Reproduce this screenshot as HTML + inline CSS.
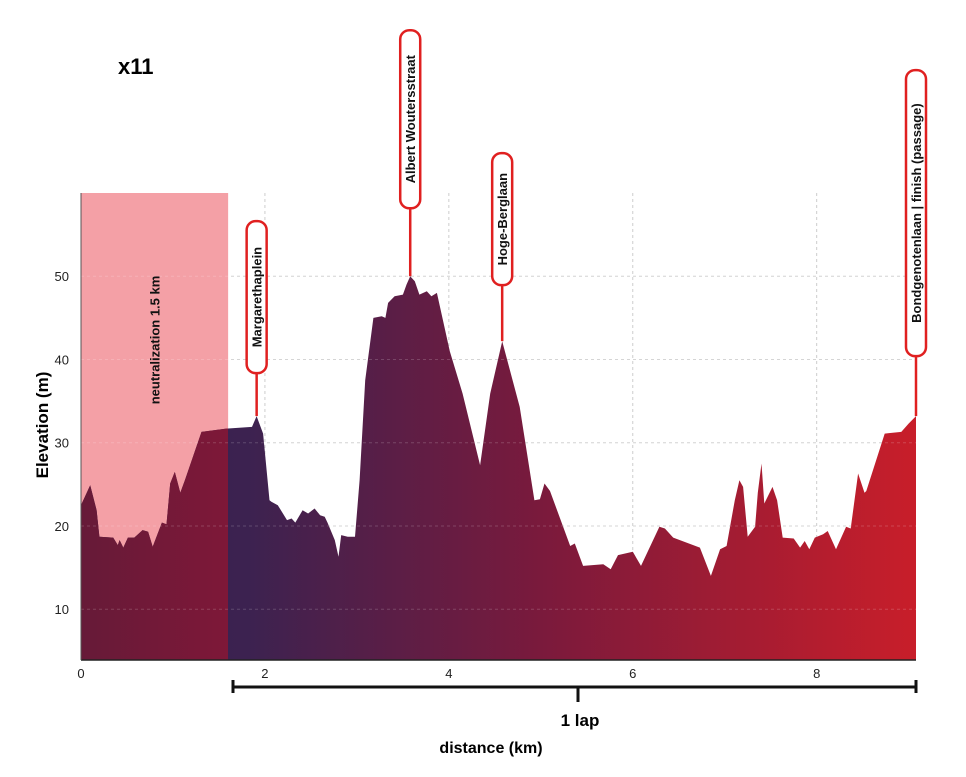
<!DOCTYPE html>
<html><head><meta charset="utf-8"><style>
body{margin:0;background:#fff;width:966px;height:772px;overflow:hidden;font-family:"Liberation Sans",sans-serif}
svg text{font-family:"Liberation Sans",sans-serif}
</style></head><body>
<svg id="chart" width="966" height="772" viewBox="0 0 966 772" xmlns="http://www.w3.org/2000/svg">
<defs>
<linearGradient id="grad" x1="81" x2="916" y1="0" y2="0" gradientUnits="userSpaceOnUse">
<stop offset="0" stop-color="#35234f"/><stop offset="0.2" stop-color="#3c2250"/><stop offset="0.55" stop-color="#7a1a3c"/><stop offset="1" stop-color="#c81e2a"/></linearGradient>
<linearGradient id="gradN" x1="81" x2="228" y1="0" y2="0" gradientUnits="userSpaceOnUse">
<stop offset="0" stop-color="#661a38"/><stop offset="1" stop-color="#7e1838"/></linearGradient>
<clipPath id="clipN"><rect x="81" y="193" width="147" height="467"/></clipPath>
</defs>
<text x="118" y="74" font-size="22" font-weight="bold">x11</text>
<g id="grid"></g>
<g id="plot"></g>
<g id="axes"></g>
<g id="markers"></g>
<text transform="translate(48,425) rotate(-90)" text-anchor="middle" font-size="17" font-weight="bold">Elevation (m)</text>
<g stroke="#111" stroke-width="3" fill="none">
<path d="M233,680 V693 M233,687 H916 M916,680 V693 M578,687 V702"/>
</g>
<text x="580" y="726" text-anchor="middle" font-size="17" font-weight="bold">1 lap</text>
<text x="491" y="753" text-anchor="middle" font-size="16" font-weight="bold">distance (km)</text>
</svg>
<script>
const km=[0,0.1,0.17,0.2,0.35,0.4,0.42,0.46,0.51,0.58,0.67,0.73,0.78,0.88,0.93,0.97,1.02,1.08,1.13,1.31,1.58,1.86,1.91,1.98,2.05,2.07,2.14,2.24,2.29,2.33,2.41,2.47,2.54,2.6,2.65,2.68,2.76,2.8,2.83,2.9,2.98,3.03,3.09,3.18,3.27,3.31,3.34,3.41,3.5,3.54,3.58,3.63,3.68,3.76,3.81,3.87,4.01,4.15,4.34,4.45,4.58,4.77,4.93,4.99,5.04,5.1,5.32,5.37,5.46,5.68,5.76,5.84,6.0,6.09,6.29,6.35,6.44,6.73,6.85,6.95,7.02,7.11,7.16,7.2,7.25,7.33,7.36,7.4,7.43,7.52,7.57,7.63,7.75,7.82,7.87,7.92,7.98,8.07,8.12,8.21,8.32,8.37,8.45,8.52,8.54,8.74,8.92,9.0,9.08];
const elev=[22.5,24.9,21.9,18.7,18.6,17.7,18.3,17.4,18.6,18.6,19.5,19.3,17.5,20.4,20.2,25.1,26.5,24,25.5,31.3,31.7,31.9,33.2,31.1,23.1,22.9,22.5,20.7,20.9,20.4,21.9,21.5,22.1,21.3,21.1,20.4,18.3,16.3,18.9,18.7,18.7,25.5,37.5,45,45.2,45,46.8,47.6,47.8,49,50,49.4,47.8,48.2,47.6,48,41,35.9,27.3,35.9,42.2,34.3,23.1,23.2,25.1,24.2,17.6,17.9,15.2,15.4,14.8,16.5,16.9,15.2,19.9,19.7,18.6,17.4,14,17.2,17.6,23.1,25.5,24.7,18.7,19.9,24,27.5,22.7,24.7,23.1,18.6,18.5,17.4,18.2,17.2,18.6,19,19.4,17.2,19.9,19.7,26.3,24,24.2,31.1,31.3,32.3,33.2];
const xTicks=[0,2,4,6,8];
const yTicks=[10,20,30,40,50];
const markerNames=["Margarethaplein","Albert Woutersstraat","Hoge-Berglaan","Bondgenotenlaan | finish (passage)"];
const markerKm=[1.91,3.58,4.58,9.08];
const markerElev=[33.2,50,42.2,33.2];
const neutralKm=1.6;

const X0=81,X1=916,KMAX=9.08,Y0=660,Y1=193,EMIN=3.9,EMAX=60;
const sx=k=>X0+(k/KMAX)*(X1-X0);
const sy=e=>Y0-(e-EMIN)/(EMAX-EMIN)*(Y0-Y1);
const NS="http://www.w3.org/2000/svg";
function mk(tag,attrs,parent){const el=document.createElementNS(NS,tag);for(const k in attrs)el.setAttribute(k,attrs[k]);parent.appendChild(el);return el;}
const grid=document.getElementById('grid'),plot=document.getElementById('plot'),axes=document.getElementById('axes'),markers=document.getElementById('markers');

const nz=mk('rect',{x:sx(0),y:Y1,width:sx(neutralKm)-sx(0),height:Y0-Y1,fill:'#f4a0a6'},plot);



xTicks.forEach(t=>{if(t===0)return;const l=mk('line',{x1:sx(t),x2:sx(t),y1:Y1,y2:Y0,stroke:'#ccc','stroke-dasharray':'3,3','stroke-width':1},grid);

});
yTicks.forEach(t=>{const l=mk('line',{x1:X0,x2:X1,y1:sy(t),y2:sy(t),stroke:'#ccc','stroke-dasharray':'3,3','stroke-width':1},grid);

});

let d='M'+sx(km[0])+','+Y0;
km.forEach((k,i)=>{d+=' L'+sx(k).toFixed(1)+','+sy(elev[i]).toFixed(1);});
d+=' L'+sx(km[km.length-1])+','+Y0+' Z';
const area=mk('path',{d:d,fill:'url(#grad)'},plot);


const area2=mk('path',{d:d,fill:'url(#gradN)','clip-path':'url(#clipN)'},plot);


// redraw grid over area lightly
yTicks.forEach(t=>{const l=mk('line',{x1:X0,x2:X1,y1:sy(t),y2:sy(t),stroke:'rgba(255,255,255,0.18)','stroke-dasharray':'3,3'},plot);

});

const nt=mk('text',{transform:`translate(${(sx(0)+sx(neutralKm))/2+5},340) rotate(-90)`,'text-anchor':'middle','font-size':13,'font-weight':'bold',fill:'#111'},plot);
nt.textContent='neutralization 1.5 km';



const ax=mk('line',{x1:X0,x2:X1,y1:Y0,y2:Y0,stroke:'#222','stroke-width':1.5},axes);


const ay=mk('line',{x1:X0,x2:X0,y1:Y1,y2:Y0,stroke:'#555','stroke-width':1},axes);


xTicks.forEach(t=>{const tx=mk('text',{x:sx(t),y:678,'text-anchor':'middle','font-size':13,fill:'#222'},axes);tx.textContent=t;

});
yTicks.forEach(t=>{const tx=mk('text',{x:69,y:sy(t)+5,'text-anchor':'end','font-size':13,fill:'#222'},axes);tx.textContent=t;

});

const boxH=[152,178,132,286], gap=[43,68,56,60];
markerNames.forEach((n,i)=>{
 const g=mk('g',{},markers);
 
 
 const x=sx(markerKm[i]), y=sy(markerElev[i]);
 const bottom=y-gap[i], top=bottom-boxH[i];
 mk('line',{x1:x,x2:x,y1:y,y2:bottom,stroke:'#e02020','stroke-width':2.5},g);
 mk('rect',{x:x-10,y:top,width:20,height:boxH[i],rx:9,fill:'#fff',stroke:'#e02020','stroke-width':2.5},g);
 const t=mk('text',{transform:`translate(${x+5},${top+boxH[i]/2}) rotate(-90)`,'text-anchor':'middle','font-size':13,'font-weight':'bold',fill:'#111'},g);
 t.textContent=n;
});
</script>
</body></html>
